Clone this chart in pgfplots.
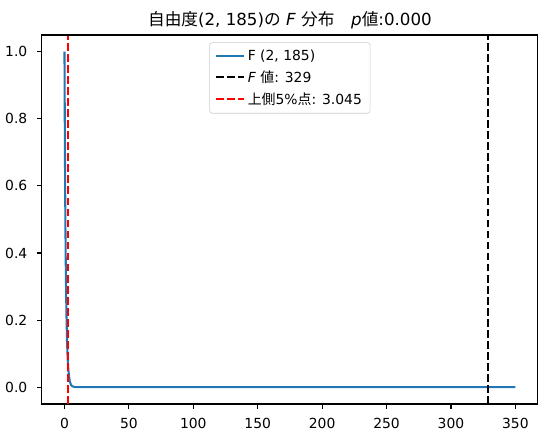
\documentclass[border=0pt]{standalone}
\usepackage{fontspec}
\setmainfont{DejaVu Sans}
\newfontfamily\jp{Noto Sans CJK JP}
\usepackage{pgfplots}
\pgfplotsset{compat=1.18}
\definecolor{tabblue}{RGB}{31,119,180}
\begin{document}
\begin{tikzpicture}
\path[use as bounding box] (0,0) rectangle (393.84pt,315.36pt);
\begin{axis}[
	at={(30.2pt,24.5pt)},
	anchor=south west,
	scale only axis,
	width=357.1pt,
	height=265.7pt,
	xmin=-17.5, xmax=367.5,
	ymin=-0.05, ymax=1.05,
	axis lines=box,
	xtick={0,50,...,350},
	ytick={0,0.2,...,1.0},
	yticklabel style={xshift=-3.5pt,/pgf/number format/.cd,fixed,fixed zerofill,precision=1},
	xticklabel style={yshift=-3.5pt},
	/pgf/number format/assume math mode=true,
	tick align=outside,
	xtick pos=lower,
	ytick pos=lower,
	major tick length=3.5pt,
	major tick style={black,line width=0.8pt},
	axis line style={black,line width=0.8pt},
	ticklabel style={font=\fontsize{10}{12}\selectfont},
	title={{\jp 自由度}(2, 185){\jp の} \textit{F} {\jp 分布}\quad\textit{p}{\jp 値}:0.000},
	title style={font=\fontsize{12}{14}\selectfont,at={(0.5,1)},anchor=south,yshift=-5pt},
	legend style={at={(0.5,0.98)},anchor=north,draw=black!20,rounded corners=2pt,
		font=\fontsize{10}{12}\selectfont,row sep=2pt,inner xsep=4pt,inner ysep=3pt},
	legend cell align=left,
	legend image code/.code={\draw[#1] (0pt,0pt) -- (20pt,0pt);},
]
\addplot[tabblue,line width=1.5pt] coordinates {
(0,1.0) (0.25,0.777) (0.5,0.604) (0.75,0.470) (1,0.366) (1.5,0.222) (2,0.135)
(2.5,0.083) (3,0.051) (4,0.019) (5,0.0073) (6,0.0028) (8,0.0004) (10,0.0001)
(15,0) (350,0)};
\addlegendentry{F (2, 185)}
\addplot[black,line width=1.5pt,dash pattern=on 5.55pt off 2.4pt] coordinates {(329,-0.05) (329,1.05)};
\addlegendentry{\textit{F} {\jp 値}: 329}
\addplot[red,line width=1.5pt,dash pattern=on 5.55pt off 2.4pt] coordinates {(3.045,-0.05) (3.045,1.05)};
\addlegendentry{{\jp 上側}5\%{\jp 点}: 3.045}
\end{axis}
\draw[black,line width=0.9pt] (30.2pt,289.9pt) -- (387.0pt,289.9pt);
\draw[black,line width=0.9pt] (387.0pt,289.9pt) -- (387.0pt,24.5pt);
\end{tikzpicture}
\end{document}
